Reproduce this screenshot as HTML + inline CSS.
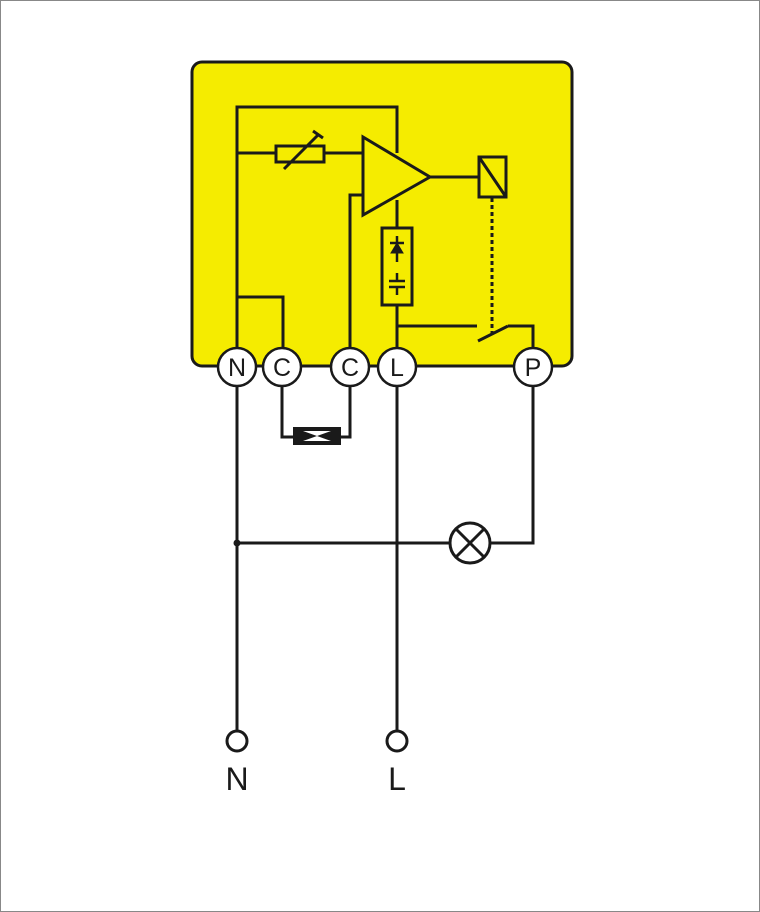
<!DOCTYPE html>
<html><head><style>html,body{margin:0;padding:0;background:#fff}svg{display:block}</style></head>
<body>
<svg width="760" height="912" viewBox="0 0 760 912" xmlns="http://www.w3.org/2000/svg">
<rect x="0.5" y="0.5" width="759" height="911" fill="#fff" stroke="#888" stroke-width="1"/>
<g stroke="#1a1a1a" stroke-width="3" fill="none">
<rect x="192" y="62" width="380" height="304" rx="10" fill="#f5ec00"/>
<!-- internal wiring -->
<polyline points="237,350 237,107 397,107 397,153"/>
<line x1="237" y1="153" x2="363" y2="153"/>
<rect x="276" y="146" width="48" height="16" fill="#f5ec00"/>
<line x1="284" y1="169" x2="318" y2="135"/>
<line x1="313" y1="131" x2="323" y2="138"/>
<polygon points="363,137 363,215 430,177" fill="#f5ec00"/>
<line x1="430" y1="177" x2="479" y2="177"/>
<rect x="479" y="157" width="27" height="40" fill="#f5ec00"/>
<line x1="479" y1="157" x2="506" y2="197"/>
<line x1="492" y1="198" x2="492" y2="336" stroke-dasharray="4,3"/>
<line x1="397" y1="200" x2="397" y2="228"/>
<rect x="382" y="228" width="30" height="77" fill="#f5ec00"/>
<line x1="397" y1="305" x2="397" y2="350"/>
<polyline points="350,350 350,195 363,195"/>
<polyline points="237,297 283,297 283,350"/>
<polyline points="397,326 477,326"/>
<line x1="478" y1="341" x2="508" y2="326"/>
<polyline points="508,326 533,326 533,350"/>
<!-- external -->
<line x1="237" y1="386" x2="237" y2="731"/>
<line x1="397" y1="386" x2="397" y2="731"/>
<polyline points="282,386 282,437 293,437"/>
<polyline points="341,437 350,437 350,386"/>
<polyline points="237,543 449,543"/>
<polyline points="490,543 533,543 533,386"/>
<circle cx="470" cy="543" r="20" fill="#fff"/>
<line x1="456" y1="529" x2="484" y2="557"/>
<line x1="484" y1="529" x2="456" y2="557"/>
<circle cx="237" cy="741" r="10" fill="#fff"/>
<circle cx="397" cy="741" r="10" fill="#fff"/>
</g>
<!-- diode & capacitor -->
<g stroke="#1a1a1a" stroke-width="2.5" fill="#1a1a1a">
<line x1="397" y1="236" x2="397" y2="262"/>
<line x1="390" y1="243" x2="404" y2="243"/>
<polygon points="397,243 391,253 403,253" stroke-width="1"/>
<line x1="397" y1="273" x2="397" y2="281"/>
<line x1="389" y1="281" x2="405" y2="281"/>
<line x1="389" y1="287" x2="405" y2="287"/>
<line x1="397" y1="287" x2="397" y2="295"/>
</g>
<circle cx="237" cy="543" r="3.5" fill="#1a1a1a"/>
<rect x="293" y="427" width="48" height="18" fill="#1a1a1a"/>
<polygon points="303,431 331,431 303,441 331,441" fill="#fff"/>
<!-- terminals -->
<g stroke="#1a1a1a" stroke-width="2.5" fill="#fff">
<circle cx="237" cy="367" r="19"/>
<circle cx="282" cy="367" r="19"/>
<circle cx="350" cy="367" r="19"/>
<circle cx="397" cy="367" r="19"/>
<circle cx="533" cy="367" r="19"/>
</g>
<g font-family="Liberation Sans, sans-serif" font-size="25" fill="#1a1a1a" text-anchor="middle">
<text x="237" y="376">N</text>
<text x="282" y="376">C</text>
<text x="350" y="376">C</text>
<text x="397" y="376">L</text>
<text x="533" y="376">P</text>
</g>
<g font-family="Liberation Sans, sans-serif" font-size="32" fill="#1a1a1a" text-anchor="middle">
<text x="237" y="790">N</text>
<text x="397" y="790">L</text>
</g>
</svg>
</body></html>
